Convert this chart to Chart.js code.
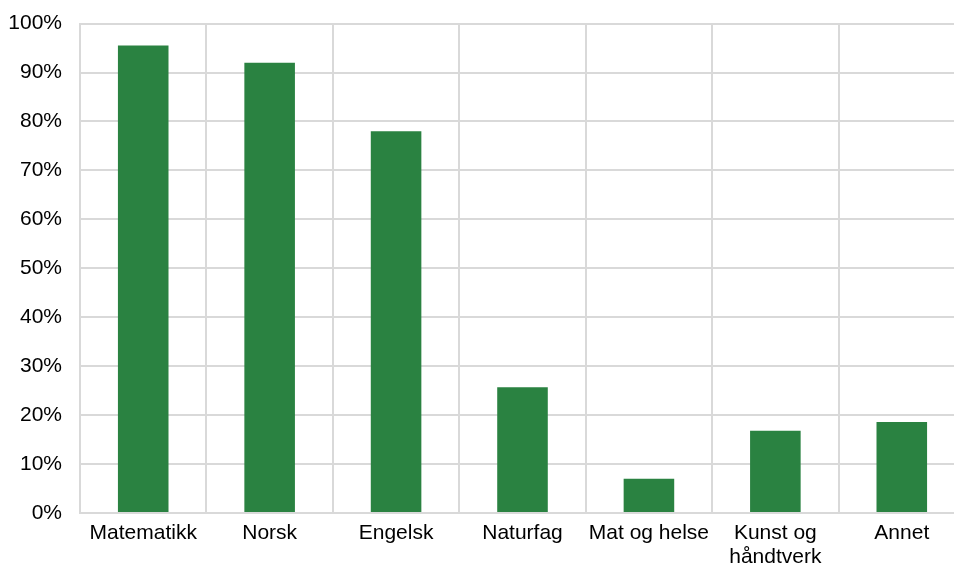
<!DOCTYPE html>
<html>
<head>
<meta charset="utf-8">
<script src="https://cdn.jsdelivr.net/npm/chart.js@4"></script>
<style>
  html, body { margin: 0; padding: 0; background: #fff; overflow: hidden; }
  #wrap { width: 965px; height: 570px; margin-top: -7px; position: relative; }
</style>
</head>
<body>
<div id="wrap"><canvas id="fagChart"></canvas></div>
<script>
var categories = ['Matematikk', 'Norsk', 'Engelsk', 'Naturfag', 'Mat og helse', ['Kunst og', 'håndtverk'], 'Annet'];
var shares = [95.5, 92, 78, 25.7, 7, 16.8, 18.6];
var yTicks = [0, 10, 20, 30, 40, 50, 60, 70, 80, 90, 100];

var ctx = document.getElementById('fagChart').getContext('2d');
new Chart(ctx, {
  type: 'bar',
  data: {
    labels: categories,
    datasets: [{
      data: shares,
      backgroundColor: '#2a8241',
      categoryPercentage: 1,
      barPercentage: 0.4
    }]
  },
  options: {
    responsive: true,
    maintainAspectRatio: false,
    animation: false,
    layout: { padding: 0 },
    plugins: { legend: { display: false }, tooltip: { enabled: false } },
    scales: {
      x: {
        grid: { color: '#d9d9d9', lineWidth: 2, drawTicks: false, offset: true },
        border: { color: '#d9d9d9', width: 2 },
        ticks: {
          color: '#000', padding: 8, maxRotation: 0, autoSkip: false,
          font: { family: 'Liberation Sans, Arial, sans-serif', size: 21, lineHeight: 1.15 }
        },
        afterFit: function (s) { s.height = 50; }
      },
      y: {
        min: 0, max: 100,
        afterBuildTicks: function (s) { s.ticks = yTicks.map(function (v) { return { value: v }; }); },
        grid: { color: '#d9d9d9', lineWidth: 2, drawTicks: false },
        border: { color: '#d9d9d9', width: 2 },
        ticks: {
          color: '#000', padding: 18,
          font: { family: 'Liberation Sans, Arial, sans-serif', size: 21 },
          callback: function (v) { return v + '%'; }
        },
        afterFit: function (s) { s.width = 80; }
      }
    }
  }
});
</script>
</body>
</html>
